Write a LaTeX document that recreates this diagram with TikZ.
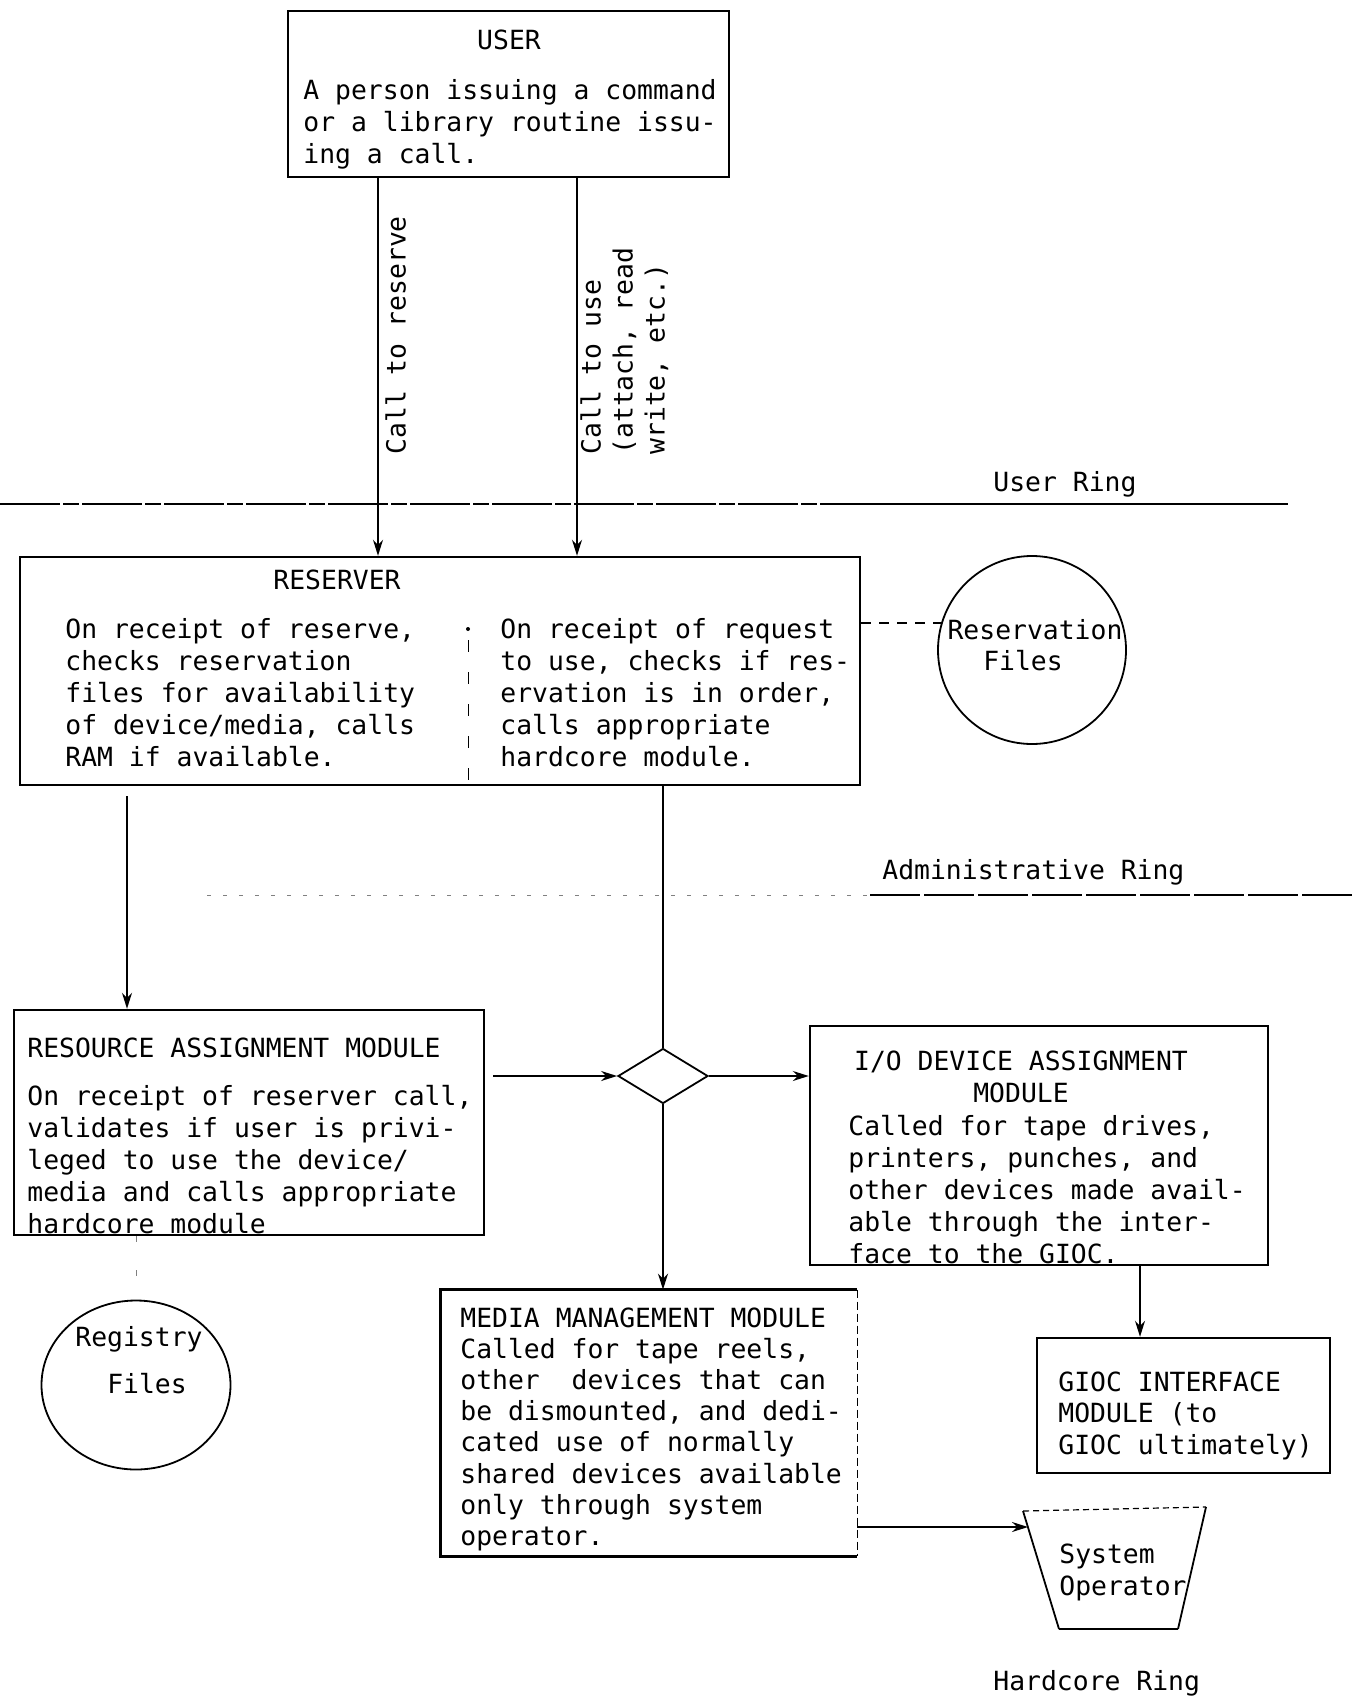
\documentclass[tikz,border=0pt]{standalone}
\usepackage{fontspec}
\setmonofont{DejaVu Sans Mono}
\usetikzlibrary{arrows.meta,fit,shapes.geometric}
\begin{document}
\begin{tikzpicture}[x=0.5pt,y=-0.5pt,
  box/.style={draw, line width=1.2pt, inner sep=0pt, fit={#1}},
  frame/.style={inner sep=0pt, fit={#1}},
  boxline/.style={line width=1.2pt},
  txt/.style={font=\fontsize{13.2}{16}\selectfont\ttfamily, align=left, inner sep=0pt, anchor=north west},
  lbl/.style={font=\fontsize{13.2}{16}\selectfont\ttfamily, inner sep=0pt},
  arr/.style={-{Stealth[length=8pt,width=5pt]}, line width=0.9pt},
  conn/.style={line width=0.9pt},
  dashconn/.style={line width=0.9pt, dash pattern=on 5pt off 4pt},
  ringa/.style={line width=0.8pt, dash pattern=on 30pt off 1.5pt on 8pt off 1.5pt},
  ringb/.style={line width=0.8pt, dash pattern=on 25pt off 2pt},
  dots/.style={line width=0.5pt, gray, dash pattern=on 2pt off 6pt},
  faint/.style={line width=0.5pt, gray, dash pattern=on 3pt off 14pt},
  divider/.style={line width=0.5pt, dash pattern=on 6pt off 10pt},
]
\useasboundingbox (0,0) rectangle (1354,1706);

% USER
\node[box={(288,11) (729,177)}] (user) {};
\node[lbl] (usert) at (509,40) {USER};
\node[txt] (userb) at (303,79) {A person issuing a command\\or a library routine issu-\\ing a call.};

% RESERVER
\node[box={(20,557) (860,785)}] (reserver) {};
\node[lbl] (rest) at (337,580) {RESERVER};
\node[txt] (resl) at (65,618) {On receipt of reserve,\\checks reservation\\files for availability\\of device/media, calls\\RAM if available.};
\node[txt] (resr) at (500,618) {On receipt of request\\to use, checks if res-\\ervation is in order,\\calls appropriate\\hardcore module.};
\draw[divider] (468,640) -- (468,785);
\fill (468,629) circle (2);

% calls from user
\coordinate (xa) at (378,0);
\coordinate (xb) at (577,0);
\draw[arr] (user.south -| xa) -- (reserver.north -| xa);
\draw[arr] (user.south -| xb) -- (reserver.north -| xb);
\node[txt, rotate=90] (lab1) at (385,455) {Call to reserve};
\node[txt, rotate=90] (lab2) at (580,455) {Call to use\\(attach, read\\write, etc.)};

% User ring
\coordinate (ur1) at (0,504);
\coordinate (ur2) at (880,504);
\coordinate (ur3) at (1288,504);
\draw[ringa] (ur1) -- (ur2);
\draw[conn] (ur2) -- (ur3);
\node[lbl, anchor=base west] (urt) at (993,491) {User Ring};

% Reservation files
\node[circle, draw, line width=0.9pt, minimum size=94pt, inner sep=0pt] (resf) at (1032,650) {};
\node[lbl, anchor=base] (resf1) at (1035,639) {Reservation};
\node[lbl, anchor=base] (resf2) at (1023,670) {Files};
\coordinate (rfl) at (942,623);
\draw[dashconn] (reserver.east |- rfl) -- (rfl);

% Administrative ring
\coordinate (ar1) at (207,895);
\coordinate (ar2) at (870,895);
\coordinate (ar3) at (1354,895);
\draw[dots] (ar1) -- (ar2);
\draw[ringb] (ar2) -- (ar3);
\node[lbl, anchor=base west] (art) at (882,879) {Administrative Ring};

% Resource assignment module
\node[box={(14,1010) (484,1235)}] (ram) {};
\node[txt] (ramt) at (27,1037) {RESOURCE ASSIGNMENT MODULE};
\node[txt] (ramb) at (27,1085) {On receipt of reserver call,\\validates if user is privi-\\leged to use the device/\\media and calls appropriate\\hardcore module};
\coordinate (xc) at (127,0);
\draw[arr, shorten <=5pt] (xc |- reserver.south) -- (xc |- ram.north);

% IO device assignment module
\node[box={(810,1026) (1268,1265)}] (iodam) {};
\node[txt, anchor=north, align=center] (iodt) at (1021,1050) {I/O DEVICE ASSIGNMENT\\MODULE};
\node[txt] (iodb) at (848,1115) {Called for tape drives,\\printers, punches, and\\other devices made avail-\\able through the inter-\\face to the GIOC.};

% Media management module
\node[frame={(441,1290) (857,1556)}] (mmm) {};
\draw[boxline] (mmm.north east) -- (mmm.north west) -- (mmm.south west) -- (mmm.south east);
\draw[line width=0.6pt, dash pattern=on 4pt off 2pt] (mmm.north east) -- (mmm.south east);
\node[txt, font=\fontsize{13.2}{15.6}\selectfont\ttfamily] (mmmb) at (460,1307) {MEDIA MANAGEMENT MODULE\\Called for tape reels,\\other~ devices that can\\be dismounted, and dedi-\\cated use of normally\\shared devices available\\only through system\\operator.};

% Diamond and its connectors
\node[diamond, draw, line width=0.9pt, minimum width=45pt, minimum height=27.5pt, inner sep=0pt] (dia) at (663,1076) {};
\coordinate (xd) at (663,0);
\draw[conn] (xd |- reserver.south) -- (dia.north);
\draw[arr, shorten <=4pt] (ram.east |- dia.west) -- (dia.west);
\draw[arr] (dia.east) -- (dia.east -| iodam.west);
\draw[arr] (dia.south) -- (dia.south |- mmm.north);

% GIOC interface module
\node[box={(1037,1338) (1330,1473)}] (gioc) {};
\node[txt, font=\fontsize{13.2}{15.8}\selectfont\ttfamily] (giocb) at (1058,1371) {GIOC INTERFACE\\MODULE (to\\GIOC ultimately)};
\coordinate (xe) at (1140,0);
\draw[arr] (xe |- iodam.south) -- (xe |- gioc.north);

% Registry files
\node[ellipse, draw, line width=0.9pt, minimum width=94.5pt, minimum height=84.5pt, inner sep=0pt] (reg) at (136,1385) {};
\node[lbl, anchor=base] (reg1) at (139,1346) {Registry};
\node[lbl, anchor=base] (reg2) at (147,1393) {Files};
\draw[faint] (reg.north |- ram.south) -- (reg.north);

% System operator
\coordinate (so1) at (1023,1511);
\coordinate (so2) at (1206,1507);
\coordinate (so3) at (1178,1629);
\coordinate (so4) at (1059,1629);
\node[frame={(so1) (so2) (so3) (so4)}] (sysop) {};
\draw[conn] (so1) -- (so4);
\draw[conn] (so2) -- (so3);
\draw[line width=0.6pt, dash pattern=on 3pt off 2pt] (so1) -- (so2);
\draw[line width=0.6pt] (so4) -- (so3);
\coordinate (sopin) at (1028,1527);
\draw[arr] (mmm.east |- sopin) -- (sopin);
\node[txt] (sopt) at (1059,1543) {System\\Operator};

% Hardcore ring
\node[lbl, anchor=base west] (hrt) at (993,1690) {Hardcore Ring};
\end{tikzpicture}
\end{document}
